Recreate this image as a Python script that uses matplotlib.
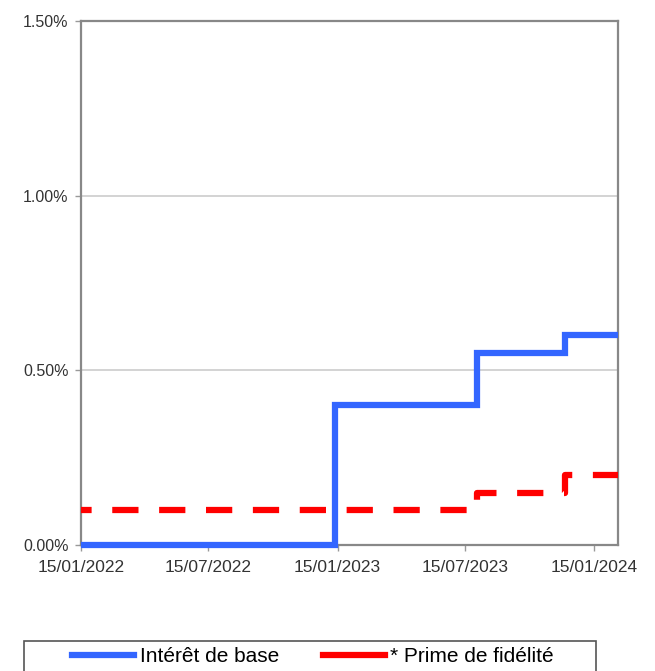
import matplotlib
matplotlib.use("Agg")
import matplotlib.pyplot as plt
import matplotlib.dates as mdates
from matplotlib.patches import Rectangle
from matplotlib.lines import Line2D
from matplotlib.ticker import FuncFormatter, MultipleLocator
import numpy as np

plt.rcParams['font.family'] = ['Liberation Sans', 'DejaVu Sans']

# step dates (value holds from this date until the next one)
dates = np.array(["2022-01-15", "2023-01-11", "2023-08-01", "2023-12-04", "2024-02-18"],
                 dtype="datetime64[D]")
base_rate = [0.00, 0.40, 0.55, 0.60, 0.60]      # Intérêt de base (%)
loyalty_bonus = [0.10, 0.10, 0.15, 0.20, 0.20]  # * Prime de fidélité (%)

tick_dates = np.array(["2022-01-15", "2022-07-15", "2023-01-15", "2023-07-15", "2024-01-15"],
                      dtype="datetime64[D]")
series_labels = ["Intérêt de base", "* Prime de fidélité"]

W, H = 655, 671
fig = plt.figure(figsize=(W / 100, H / 100), dpi=100)
ax = fig.add_axes([81 / W, 1 - 545 / H, (618 - 81) / W, (545 - 21) / H])

blue = "#3366ff"
red = "#ff0000"

ax.step(dates, base_rate, where="post", color=blue, lw=4.5, clip_on=False, zorder=4,
        solid_joinstyle="miter", solid_capstyle="butt")
ax.step(dates, loyalty_bonus, where="post", color=red, lw=4.5,
        linestyle=(2.5, (4.2, 3.3)), dash_capstyle="butt", zorder=3)

ax.set_xlim(dates[0], dates[-1])
ax.set_ylim(0, 1.5)
ax.yaxis.set_major_locator(MultipleLocator(0.5))
ax.yaxis.set_major_formatter(FuncFormatter(lambda v, p: f"{v:.2f}%"))
ax.set_xticks(tick_dates)
ax.xaxis.set_major_formatter(mdates.DateFormatter("%d/%m/%Y"))

ax.grid(axis="y", color="#cccccc", lw=1.2)
ax.set_axisbelow(True)
for s in ax.spines.values():
    s.set_color("#888888")
    s.set_linewidth(1.6)
ax.tick_params(axis="both", colors="#999999", labelcolor="#333333",
               length=4, width=1)
ax.tick_params(axis="x", pad=7, labelsize=12.5)
ax.tick_params(axis="y", pad=5, labelsize=11.5)

# legend box (runs past the bottom edge as in the reference)
fig.patches.append(Rectangle((24 / W, 1 - 678 / H), 572 / W, 37 / H,
                             transform=fig.transFigure, fill=False,
                             edgecolor="#555555", lw=1.2))
handles = [Line2D([], [], color=blue, lw=4.5),
           Line2D([], [], color=red, lw=4.5)]
fig.legend(handles, series_labels, loc="center", bbox_to_anchor=(313 / W, 1 - 657 / H),
           ncol=2, frameon=False, fontsize=15, handlelength=3.0,
           handletextpad=0.25, columnspacing=2.1)

fig.savefig("out.png", dpi=100)
